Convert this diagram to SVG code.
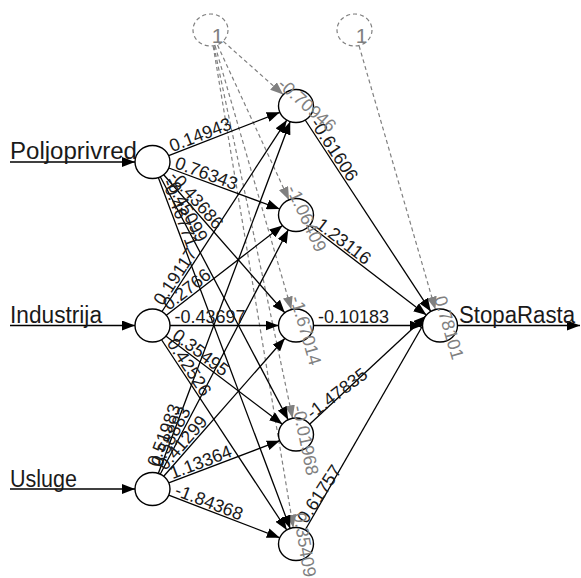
<svg xmlns="http://www.w3.org/2000/svg" width="581" height="578" viewBox="0 0 581 578">
<style>
.n{fill:#fff;stroke:#000;stroke-width:1.4}
.b{fill:#fff;stroke:#808080;stroke-width:1.2;stroke-dasharray:4,3}
.e{stroke:#000;stroke-width:1.3;fill:none;marker-end:url(#ah)}
.eb{stroke:#808080;stroke-width:1.2;stroke-dasharray:4,3;fill:none;marker-end:url(#ahg)}
.w{font-family:"Liberation Sans",Arial,sans-serif;font-size:18px;fill:#1a1a1a}
.wb{font-family:"Liberation Sans",Arial,sans-serif;font-size:18px;fill:#808080}
.lab{font-family:"Liberation Sans",Arial,sans-serif;font-size:23px;fill:#1a1a1a}
.one{font-family:"Liberation Sans",Arial,sans-serif;font-size:21px;fill:#808080;text-anchor:middle}
</style>
<defs>
<marker id="ah" markerWidth="13" markerHeight="10" refX="13" refY="5" orient="auto" markerUnits="userSpaceOnUse"><path d="M0,0 L13,5 L0,10 z" fill="#000"/></marker>
<marker id="ahg" markerWidth="13" markerHeight="10" refX="13" refY="5" orient="auto" markerUnits="userSpaceOnUse"><path d="M0,0 L13,5 L0,10 z" fill="#808080"/></marker>
</defs>
<g id="connectors">
<line class="e" x1="10" y1="162" x2="135" y2="162"/>
<line class="e" x1="10" y1="325.5" x2="135" y2="325.5"/>
<line class="e" x1="10" y1="489" x2="135" y2="489"/>
<line class="e" x1="457.5" y1="325.5" x2="580" y2="325.5"/>
<line class="eb" x1="223.3" y1="41.4" x2="283.2" y2="94.6"/>
<line class="eb" x1="217.5" y1="45.1" x2="289.0" y2="199.9"/>
<line class="eb" x1="215.1" y1="45.9" x2="291.4" y2="309.6"/>
<line class="eb" x1="213.9" y1="46.2" x2="292.6" y2="418.3"/>
<line class="eb" x1="213.2" y1="46.3" x2="293.3" y2="527.7"/>
<line class="eb" x1="359.1" y1="45.9" x2="435.4" y2="309.6"/>
<line class="e" x1="168.7" y1="155.7" x2="279.8" y2="112.3"/>
<line class="e" x1="168.8" y1="168.0" x2="279.7" y2="209.0"/>
<line class="e" x1="163.7" y1="174.7" x2="284.8" y2="312.8"/>
<line class="e" x1="160.3" y1="176.8" x2="288.2" y2="419.7"/>
<line class="e" x1="158.3" y1="177.5" x2="290.2" y2="528.5"/>
<line class="e" x1="161.7" y1="312.0" x2="286.8" y2="120.1"/>
<line class="e" x1="166.0" y1="315.5" x2="282.5" y2="225.5"/>
<line class="e" x1="170" y1="325.5" x2="278.5" y2="325.5"/>
<line class="e" x1="166.1" y1="336.3" x2="282.4" y2="424.2"/>
<line class="e" x1="161.7" y1="340.0" x2="286.8" y2="530.0"/>
<line class="e" x1="158.3" y1="473.5" x2="290.2" y2="121.5"/>
<line class="e" x1="160.2" y1="474.2" x2="288.3" y2="229.8"/>
<line class="e" x1="163.7" y1="476.3" x2="284.9" y2="338.2"/>
<line class="e" x1="168.7" y1="482.8" x2="279.8" y2="440.7"/>
<line class="e" x1="168.7" y1="495.2" x2="279.8" y2="537.8"/>
<line class="e" x1="305.2" y1="120.0" x2="430.8" y2="311.4"/>
<line class="e" x1="309.6" y1="225.4" x2="426.4" y2="315.1"/>
<line class="e" x1="313.5" y1="325.5" x2="422.5" y2="325.5"/>
<line class="e" x1="309.6" y1="424.2" x2="426.4" y2="315.8"/>
<line class="e" x1="305.2" y1="530.0" x2="430.8" y2="311.5"/>
</g>
<g id="input-poljoprivred">
<ellipse class="n" cx="152.5" cy="162" rx="17.5" ry="16.5"/>
<text class="lab" x="10" y="159" textLength="127" lengthAdjust="spacingAndGlyphs">Poljoprivred</text>
</g>
<g id="input-industrija">
<ellipse class="n" cx="152.5" cy="325.5" rx="17.5" ry="16.5"/>
<text class="lab" x="10" y="322.5" textLength="92" lengthAdjust="spacingAndGlyphs">Industrija</text>
</g>
<g id="input-usluge">
<ellipse class="n" cx="152.5" cy="489" rx="17.5" ry="16.5"/>
<text class="lab" x="10" y="486.5" textLength="67" lengthAdjust="spacingAndGlyphs">Usluge</text>
</g>
<g id="bias-1">
<ellipse class="b" cx="210.5" cy="30" rx="17.5" ry="16"/>
<text class="one" x="217.5" y="43">1</text>
</g>
<g id="bias-2">
<ellipse class="b" cx="354.5" cy="30" rx="17.5" ry="16"/>
<text class="one" x="361.5" y="43">1</text>
</g>
<g id="hidden-1"><ellipse class="n" cx="296" cy="106" rx="17.5" ry="16.5"/></g>
<g id="hidden-2"><ellipse class="n" cx="296" cy="215" rx="17.5" ry="16.5"/></g>
<g id="hidden-3"><ellipse class="n" cx="296" cy="325.5" rx="17.5" ry="16.5"/></g>
<g id="hidden-4"><ellipse class="n" cx="296" cy="434.5" rx="17.5" ry="16.5"/></g>
<g id="hidden-5"><ellipse class="n" cx="296" cy="544" rx="17.5" ry="16.5"/></g>
<g id="output-stoparasta">
<ellipse class="n" cx="440" cy="325.5" rx="17.5" ry="16.5"/>
<text class="lab" x="459" y="322.5" textLength="116" lengthAdjust="spacingAndGlyphs">StopaRasta</text>
</g>
<g id="connector-labels">
<text class="w" transform="translate(173,154) rotate(-21.3)" y="-2">0.14943</text>
<text class="w" transform="translate(173.1,169.6) rotate(20.3)" y="-2">0.76343</text>
<text class="w" transform="translate(167,178.5) rotate(48.6)" y="-2">-0.43686</text>
<text class="w" transform="translate(162.8,181.5) rotate(62.2)" y="-2">-0.45099</text>
<text class="w" transform="translate(160.2,182.6) rotate(69.4)" y="-2">-0.46771</text>
<text class="w" transform="translate(164.5,307.6) rotate(-56.9)" y="-2">0.19117</text>
<text class="w" transform="translate(169.9,312.5) rotate(-37.7)" y="-2">0.2766</text>
<text class="w" transform="translate(174.5,325.5)" y="-3">-0.43697</text>
<text class="w" transform="translate(170,339.3) rotate(37.2)" y="-2">0.35495</text>
<text class="w" transform="translate(164.6,344.4) rotate(56.6)" y="-2">0.42526</text>
<text class="w" transform="translate(160.2,468.4) rotate(-69.5)" y="-2">0.51983</text>
<text class="w" transform="translate(162.7,469.5) rotate(-62.4)" y="-2">0.58883</text>
<text class="w" transform="translate(167,472.5) rotate(-48.7)" y="-2">0.41299</text>
<text class="w" transform="translate(173.1,481.2) rotate(-20.8)" y="-2">1.13364</text>
<text class="w" transform="translate(173,496.9) rotate(21)" y="-2">-1.84368</text>
<text class="w" transform="translate(308.1,124.4) rotate(56.7)" y="-2">-0.61606</text>
<text class="w" transform="translate(313.5,228.4) rotate(37.5)" y="-2">1.23116</text>
<text class="w" transform="translate(318,325.5)" y="-3">-0.10183</text>
<text class="w" transform="translate(313.5,421.2) rotate(-37.1)" y="-2">-1.47835</text>
<text class="w" transform="translate(308.1,525.6) rotate(-56.6)" y="-2">0.61757</text>
<text class="wb" transform="translate(275.1,87.4) rotate(41.6)" y="-2">-0.70946</text>
<text class="wb" transform="translate(284.3,189.6) rotate(65.2)" y="-2">-1.06409</text>
<text class="wb" transform="translate(288.2,298.6) rotate(73.9)" y="-2">-1.67014</text>
<text class="wb" transform="translate(290.3,407.1) rotate(78.1)" y="-2">-0.01968</text>
<text class="wb" transform="translate(291.4,514) rotate(80.55)" y="-2">0.35409</text>
<text class="wb" transform="translate(432.2,298.6) rotate(73.9)" y="-2">0.78101</text>
</g>
</svg>
